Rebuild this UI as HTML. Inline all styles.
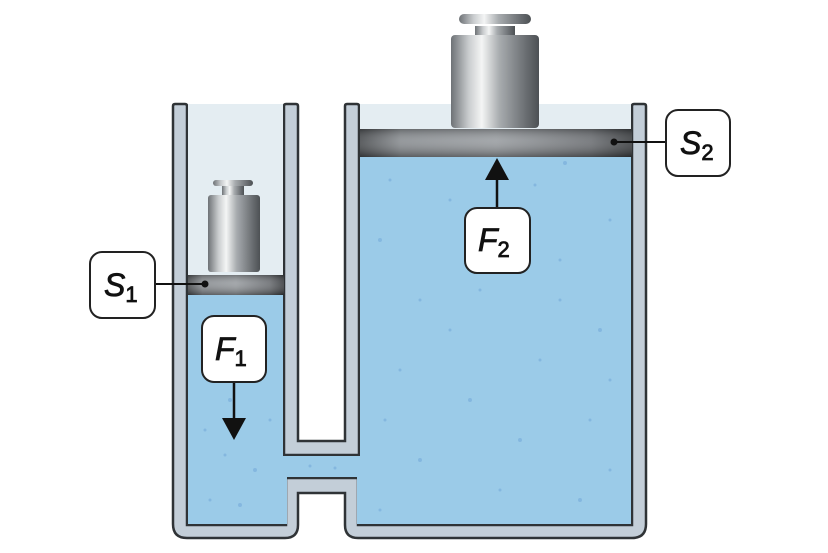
<!DOCTYPE html>
<html><head><meta charset="utf-8"><style>
html,body{margin:0;padding:0;background:#fff;}
svg{display:block;}
text{font-family:"Liberation Sans",sans-serif;}
</style></head><body>
<svg width="828" height="553" viewBox="0 0 828 553" xmlns="http://www.w3.org/2000/svg">
<defs>
<linearGradient id="pist" x1="0" x2="1" y1="0" y2="0">
<stop offset="0" stop-color="#4a4d50"/><stop offset="0.15" stop-color="#8a8e92"/><stop offset="0.5" stop-color="#9a9ea2"/><stop offset="0.85" stop-color="#6d7074"/><stop offset="1" stop-color="#3c3f42"/>
</linearGradient>
<linearGradient id="pistv" x1="0" x2="0" y1="0" y2="1">
<stop offset="0" stop-color="#000" stop-opacity="0.25"/><stop offset="0.4" stop-color="#fff" stop-opacity="0.1"/><stop offset="1" stop-color="#000" stop-opacity="0.35"/>
</linearGradient>
<linearGradient id="wt" x1="0" x2="1" y1="0" y2="0">
<stop offset="0" stop-color="#6e7276"/><stop offset="0.2" stop-color="#c9ccce"/><stop offset="0.35" stop-color="#f4f5f5"/><stop offset="0.55" stop-color="#a8acaf"/><stop offset="0.85" stop-color="#6a6e72"/><stop offset="1" stop-color="#4d5154"/>
</linearGradient>
</defs>
<path d="M173,106 Q173,104 175,104 H185 Q187,104 187,106 V525 H286 V478 H358 V525 H632 V106 Q632,104 634,104 H644 Q646,104 646,106 V524 Q646,538 632,538 H358 Q345,538 345,525 V493 H298 V525 Q298,538 285,538 H187 Q173,538 173,524 Z" fill="#c3ced8" stroke="#2f3336" stroke-width="2.5"/>
<path d="M284,106 Q284,104 286,104 H296 Q298,104 298,106 V441 H345 V106 Q345,104 347,104 H357 Q359,104 359,106 V455 H284 Z" fill="#c3ced8" stroke="#2f3336" stroke-width="2.5"/>
<rect x="188" y="104" width="95" height="172" fill="#e4edf2"/>
<rect x="360" y="104" width="271" height="26" fill="#e4edf2"/>
<path d="M188,295 V524 H287 V477 H357 V524 H631 V157 H360 V456 H283 V295 Z" fill="#9bcbe8"/>
<g fill="#7fb3dd" opacity="0.8">
<circle cx="215" cy="320" r="1.5"/><circle cx="230" cy="400" r="2"/><circle cx="250" cy="375" r="1.5"/><circle cx="205" cy="430" r="1.5"/><circle cx="255" cy="470" r="2"/><circle cx="210" cy="500" r="1.5"/><circle cx="240" cy="505" r="2"/><circle cx="225" cy="455" r="1.5"/><circle cx="270" cy="420" r="1.5"/><circle cx="310" cy="466" r="1.5"/><circle cx="335" cy="468" r="1.5"/><circle cx="390" cy="180" r="1.5"/><circle cx="450" cy="200" r="1.5"/><circle cx="565" cy="163" r="2"/><circle cx="535" cy="185" r="1.5"/><circle cx="610" cy="220" r="1.5"/><circle cx="380" cy="240" r="2"/><circle cx="420" cy="300" r="1.5"/><circle cx="560" cy="260" r="1.5"/><circle cx="600" cy="330" r="2"/><circle cx="400" cy="370" r="1.5"/><circle cx="470" cy="400" r="2"/><circle cx="540" cy="360" r="1.5"/><circle cx="590" cy="420" r="1.5"/><circle cx="420" cy="460" r="2"/><circle cx="500" cy="490" r="1.5"/><circle cx="580" cy="500" r="2"/><circle cx="380" cy="510" r="1.5"/><circle cx="610" cy="470" r="1.5"/><circle cx="450" cy="330" r="1.5"/><circle cx="520" cy="440" r="2"/><circle cx="385" cy="420" r="1.5"/><circle cx="560" cy="300" r="1.5"/><circle cx="480" cy="290" r="1.5"/><circle cx="610" cy="380" r="1.5"/>
</g>
<rect x="188" y="275" width="96" height="20" fill="url(#pist)"/>
<rect x="188" y="275" width="96" height="20" fill="url(#pistv)"/>
<rect x="360" y="129" width="272" height="28" fill="url(#pist)"/>
<rect x="360" y="129" width="272" height="28" fill="url(#pistv)"/>
<rect x="222" y="186" width="22" height="10" fill="url(#wt)"/>
<rect x="213" y="180" width="40" height="6" rx="3" fill="url(#wt)"/>
<rect x="208" y="195" width="52" height="77" rx="3" fill="url(#wt)"/>
<rect x="475" y="26" width="40" height="10" fill="url(#wt)"/>
<rect x="459" y="14" width="72" height="10" rx="5" fill="url(#wt)"/>
<rect x="451" y="35" width="88" height="93" rx="4" fill="url(#wt)"/>
<line x1="155" y1="284" x2="204" y2="284" stroke="#111" stroke-width="2"/>
<circle cx="205" cy="284" r="3.5" fill="#111"/>
<line x1="614" y1="142" x2="666" y2="142" stroke="#111" stroke-width="2"/>
<circle cx="614" cy="142" r="3.5" fill="#111"/>
<line x1="234" y1="382" x2="234" y2="420" stroke="#111" stroke-width="2.5"/>
<polygon points="222,418 246,418 234,440" fill="#111"/>
<line x1="497" y1="208" x2="497" y2="178" stroke="#111" stroke-width="2.5"/>
<polygon points="485,180 509,180 497,158" fill="#111"/>
<g fill="#fff" stroke="#222" stroke-width="2">
<rect x="90" y="252" width="65" height="66" rx="12"/>
<rect x="666" y="110" width="64" height="66" rx="12"/>
<rect x="465" y="208" width="65" height="65" rx="12"/>
<rect x="202" y="316" width="64" height="66" rx="12"/>
</g>
<g font-size="32" fill="#111" stroke="#111" stroke-width="0.8">
<text x="104" y="296"><tspan font-style="italic">S</tspan><tspan font-size="22" dy="6">1</tspan></text>
<text x="680" y="154"><tspan font-style="italic">S</tspan><tspan font-size="22" dy="6">2</tspan></text>
<text x="478" y="251"><tspan font-style="italic">F</tspan><tspan font-size="22" dy="6">2</tspan></text>
<text x="215" y="360"><tspan font-style="italic">F</tspan><tspan font-size="22" dy="6">1</tspan></text>
</g>
</svg>
</body></html>
